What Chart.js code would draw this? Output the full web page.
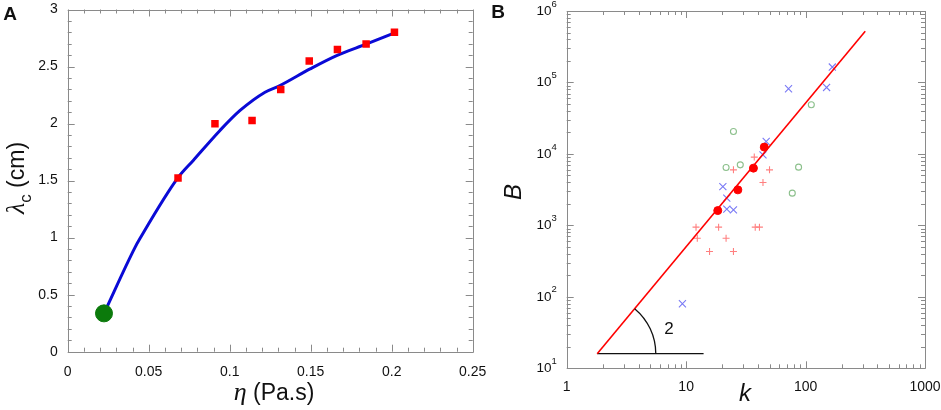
<!DOCTYPE html>
<html>
<head>
<meta charset="utf-8">
<script src="https://cdn.jsdelivr.net/npm/chart.js@4.4.0/dist/chart.umd.min.js"></script>
<style>
  body { margin: 0; background: #ffffff; }
  canvas { position: absolute; top: 0; }
  #panelA { left: 0; }
  #panelB { left: 490px; }
</style>
</head>
<body>
<canvas id="panelA" width="490" height="410"></canvas>
<canvas id="panelB" width="451" height="410"></canvas>
<script>
// PANEL A - lambda_c vs eta
var etaMeasured = [0.0681, 0.0909, 0.1138, 0.1315, 0.1491, 0.1665, 0.1842, 0.2017];
var lambdaMeasured = [1.522, 1.998, 2.027, 2.298, 2.549, 2.650, 2.698, 2.800];
var etaCurve = [0.0224, 0.0415, 0.0446, 0.0681, 0.0775, 0.0940, 0.1064, 0.1218, 0.1310, 0.1496, 0.1660, 0.1846, 0.2010];
var lambdaCurve = [0.336, 0.913, 0.992, 1.526, 1.677, 1.940, 2.115, 2.275, 2.333, 2.479, 2.596, 2.698, 2.791];
var etaStart = [0.0224];
var lambdaStart = [0.336];
var etaTicks = [0, 0.05, 0.1, 0.15, 0.2, 0.25];
var etaTickLabels = ["0", "0.05", "0.1", "0.15", "0.2", "0.25"];
var lambdaTicks = [0, 0.5, 1, 1.5, 2, 2.5, 3];
var lambdaTickLabels = ["0", "0.5", "1", "1.5", "2", "2.5", "3"];

// PANEL B - B vs k (log-log)
var kFilled = [18.4, 27.1, 36.6, 45.1];
var bFilled = [1611, 3141, 6325, 12450];
var kCross = [9.31, 20.3, 21.9, 21.9, 24.9, 46.8, 44.0, 72, 150, 167.5];
var bCross = [80, 3494, 2404, 1687, 1649, 14920, 9710, 81700, 85100, 164400];
var kOpen = [24.9, 21.6, 28.4, 87.4, 77.4, 111.7];
var bOpen = [20600, 6455, 7035, 6530, 2825, 48700];
var kPlus = [24.9, 37.2, 49.9, 44.0, 12.1, 12.4, 18.7, 21.6, 37.9, 41.1, 15.7, 24.9];
var bPlus = [5990, 9020, 5990, 3975, 944, 662, 944, 662, 944, 944, 430, 430];
var kFit = [1.8, 316];
var bFit = [16, 520000];
var kBase = [1.8, 14];
var bBase = [16, 16];
var kArcEnd = 5.57;
var slopeLabel = "2";
var slopeLabelAt = [7.2, 35];
var kTicks = [1, 10, 100, 1000];
var kTickLabels = ["1", "10", "100", "1000"];
var bTicks = [10, 100, 1000, 10000, 100000, 1000000];
var bTickBase = "10";
var bTickExp = ["1", "2", "3", "4", "5", "6"];

var SANS = "'Liberation Sans', Arial, sans-serif";
var SERIF = "'Liberation Serif', 'DejaVu Serif', serif";

function pts(xs, ys) {
    return xs.map(function (x, i) { return {x: x, y: ys[i]}; });
}

function fixedTicks(values) {
    return function (scale) {
        scale.ticks = values.map(function (v) { return {value: v}; });
    };
}

function fixedSize(prop, size) {
    return function (scale) {
        scale[prop] = size;
        scale.paddingLeft = 0;
        scale.paddingRight = 0;
        scale.paddingTop = 0;
        scale.paddingBottom = 0;
    };
}

// draws text made of several pieces (italic symbol, subscript...)
function drawParts(ctx, parts, x, y, rot) {
    ctx.save();
    ctx.translate(x, y);
    ctx.rotate(rot);
    ctx.fillStyle = "#111111";
    ctx.textBaseline = "alphabetic";
    var total = 0;
    parts.forEach(function (p) { ctx.font = p.font; total += ctx.measureText(p.text).width; });
    var cx = -total / 2;
    parts.forEach(function (p) {
        ctx.font = p.font;
        ctx.fillText(p.text, cx, p.dy || 0);
        cx += ctx.measureText(p.text).width;
    });
    ctx.restore();
}

// frame + inward ticks on the four sides
var frameTicks = {
    id: "frameTicks",
    beforeDatasetsDraw: function (chart, args, opts) {
        var a = chart.chartArea;
        var ctx = chart.ctx;
        var sx = chart.scales.x;
        var sy = chart.scales.y;
        ctx.save();
        ctx.strokeStyle = "#8a8a8a";
        ctx.lineWidth = 1;
        ctx.beginPath();
        function seg(x1, y1, x2, y2) { ctx.moveTo(x1, y1); ctx.lineTo(x2, y2); }
        function tx(v, len) {
            var p = Math.round(sx.getPixelForValue(v)) + 0.5;
            seg(p, a.bottom, p, a.bottom - len);
            seg(p, a.top, p, a.top + len);
        }
        function ty(v, len) {
            var p = Math.round(sy.getPixelForValue(v)) + 0.5;
            seg(a.left, p, a.left + len, p);
            seg(a.right, p, a.right - len, p);
        }
        opts.xMajor.forEach(function (v) { tx(v, 7); });
        opts.xMinor.forEach(function (v) { tx(v, 4); });
        opts.yMajor.forEach(function (v) { ty(v, 7); });
        opts.yMinor.forEach(function (v) { ty(v, 4); });
        ctx.rect(Math.round(a.left) + 0.5, Math.round(a.top) + 0.5,
                 Math.round(a.right - a.left), Math.round(a.bottom - a.top));
        ctx.stroke();
        ctx.restore();
    }
};

var titles = {
    id: "titles",
    afterDraw: function (chart, args, opts) {
        opts.items.forEach(function (it) {
            drawParts(chart.ctx, it.parts, it.x, it.y, it.rot || 0);
        });
    }
};

// "10" with a raised exponent for the log y axis
var powerLabels = {
    id: "powerLabels",
    afterDraw: function (chart) {
        var ctx = chart.ctx;
        var sy = chart.scales.y;
        var right = chart.chartArea.left - 10;
        ctx.save();
        ctx.fillStyle = "#111111";
        ctx.textBaseline = "middle";
        bTicks.forEach(function (v, idx) {
            var py = sy.getPixelForValue(v);
            ctx.font = "9.5px " + SANS;
            var ew = ctx.measureText(bTickExp[idx]).width;
            ctx.textAlign = "left";
            ctx.fillText(bTickExp[idx], right - ew, py - 7);
            ctx.font = "13.5px " + SANS;
            ctx.textAlign = "right";
            ctx.fillText(bTickBase, right - ew, py);
        });
        ctx.restore();
    }
};

// slope triangle: arc between the base line and the fit line
var slopeArc = {
    id: "slopeArc",
    afterDatasetsDraw: function (chart) {
        var ctx = chart.ctx;
        var sx = chart.scales.x;
        var sy = chart.scales.y;
        var cx = sx.getPixelForValue(kBase[0]);
        var cy = sy.getPixelForValue(bBase[0]);
        var r = sx.getPixelForValue(kArcEnd) - cx;
        var ang = Math.atan2(sy.getPixelForValue(bFit[1]) - sy.getPixelForValue(bFit[0]),
                             sx.getPixelForValue(kFit[1]) - sx.getPixelForValue(kFit[0]));
        ctx.save();
        ctx.strokeStyle = "#111111";
        ctx.lineWidth = 1.3;
        ctx.beginPath();
        ctx.arc(cx, cy, r, ang, 0);
        ctx.stroke();
        ctx.fillStyle = "#111111";
        ctx.font = "17px " + SANS;
        ctx.textAlign = "center";
        ctx.textBaseline = "middle";
        ctx.fillText(slopeLabel, sx.getPixelForValue(slopeLabelAt[0]), sy.getPixelForValue(slopeLabelAt[1]));
        ctx.restore();
    }
};

var i, d;
var etaMinor = [];
for (i = 1; i < 25; i += 1) { if (i % 5 !== 0) { etaMinor.push(i / 100); } }
var lambdaMinor = [];
for (i = 1; i < 30; i += 1) { if (i % 5 !== 0) { lambdaMinor.push(i / 10); } }
var kMinor = [];
for (d = 1; d < 1000; d *= 10) { for (i = 2; i < 10; i += 1) { kMinor.push(i * d); } }
var bMinor = [];
for (d = 10; d < 1000000; d *= 10) { for (i = 2; i < 10; i += 1) { bMinor.push(i * d); } }

var tickFont = {family: SANS, size: 14};

new Chart(document.getElementById("panelA"), {
    type: "scatter",
    data: {
        datasets: [{
            data: pts(etaStart, lambdaStart),
            backgroundColor: "#0b7a0b",
            borderColor: "#0b7a0b",
            pointRadius: 8.5,
            pointStyle: "circle"
        }, {
            data: pts(etaMeasured, lambdaMeasured),
            backgroundColor: "#ff0000",
            borderColor: "#ff0000",
            borderWidth: 0,
            pointRadius: 5.3,
            pointStyle: "rect"
        }, {
            data: pts(etaCurve, lambdaCurve),
            showLine: true,
            borderColor: "#0a0ad6",
            borderWidth: 3,
            pointRadius: 0,
            cubicInterpolationMode: "monotone"
        }]
    },
    options: {
        responsive: false,
        animation: false,
        events: [],
        layout: {padding: {top: 9, right: 17.3, left: 0, bottom: 0}},
        plugins: {
            legend: {display: false},
            tooltip: {enabled: false},
            frameTicks: {xMajor: etaTicks, xMinor: etaMinor, yMajor: lambdaTicks, yMinor: lambdaMinor},
            titles: {items: [
                {parts: [{text: "A", font: "bold 19px " + SANS}], x: 10, y: 20},
                {parts: [{text: "\u03bb", font: "italic 26px " + SERIF},
                         {text: "c", font: "17px " + SANS, dy: 7},
                         {text: " (cm)", font: "23px " + SANS}], x: 24, y: 178, rot: -Math.PI / 2},
                {parts: [{text: "\u03b7", font: "italic 26px " + SERIF},
                         {text: " (Pa.s)", font: "23px " + SANS}], x: 274, y: 400}
            ]}
        },
        scales: {
            x: {
                type: "linear", min: 0, max: 0.25,
                afterBuildTicks: fixedTicks(etaTicks),
                afterFit: fixedSize("height", 58.3),
                grid: {display: false, drawTicks: false},
                border: {display: false},
                ticks: {
                    font: tickFont, color: "#111111", padding: 12, maxRotation: 0,
                    callback: function (v, idx) { return etaTickLabels[idx]; }
                }
            },
            y: {
                type: "linear", min: 0, max: 3,
                afterBuildTicks: fixedTicks(lambdaTicks),
                afterFit: fixedSize("width", 67.7),
                grid: {display: false, drawTicks: false},
                border: {display: false},
                ticks: {
                    font: tickFont, color: "#111111", padding: 10,
                    callback: function (v, idx) { return lambdaTickLabels[idx]; }
                }
            }
        }
    },
    plugins: [frameTicks, titles]
});

new Chart(document.getElementById("panelB"), {
    type: "scatter",
    data: {
        datasets: [{
            data: pts(kFilled, bFilled),
            backgroundColor: "#ff0000",
            borderColor: "#ff0000",
            pointRadius: 4,
            pointStyle: "circle"
        }, {
            data: pts(kFit, bFit),
            showLine: true,
            borderColor: "#ff0000",
            borderWidth: 1.6,
            pointRadius: 0
        }, {
            data: pts(kBase, bBase),
            showLine: true,
            borderColor: "#111111",
            borderWidth: 1.3,
            pointRadius: 0
        }, {
            data: pts(kCross, bCross),
            backgroundColor: "transparent",
            borderColor: "#7a7af5",
            borderWidth: 1.1,
            pointRadius: 5,
            pointStyle: "crossRot"
        }, {
            data: pts(kOpen, bOpen),
            backgroundColor: "transparent",
            borderColor: "#8cc08c",
            borderWidth: 1.1,
            pointRadius: 3,
            pointStyle: "circle"
        }, {
            data: pts(kPlus, bPlus),
            backgroundColor: "transparent",
            borderColor: "#ff8080",
            borderWidth: 1.1,
            pointRadius: 3.5,
            pointStyle: "cross"
        }]
    },
    options: {
        responsive: false,
        animation: false,
        events: [],
        layout: {padding: {top: 11, right: 16, left: 0, bottom: 0}},
        plugins: {
            legend: {display: false},
            tooltip: {enabled: false},
            frameTicks: {xMajor: kTicks, xMinor: kMinor, yMajor: bTicks, yMinor: bMinor},
            titles: {items: [
                {parts: [{text: "B", font: "bold 19px " + SANS}], x: 8, y: 18},
                {parts: [{text: "B", font: "italic 24px " + SANS}], x: 31, y: 192, rot: -Math.PI / 2},
                {parts: [{text: "k", font: "italic 24px " + SANS}], x: 255, y: 401}
            ]}
        },
        scales: {
            x: {
                type: "logarithmic", min: 1, max: 1000,
                afterBuildTicks: fixedTicks(kTicks),
                afterFit: fixedSize("height", 41.7),
                grid: {display: false, drawTicks: false},
                border: {display: false},
                ticks: {
                    font: tickFont, color: "#111111", padding: 10, maxRotation: 0, autoSkip: false,
                    callback: function (v, idx) { return kTickLabels[idx]; }
                }
            },
            y: {
                type: "logarithmic", min: 10, max: 1000000,
                afterBuildTicks: fixedTicks(bTicks),
                afterFit: fixedSize("width", 76.7),
                grid: {display: false, drawTicks: false},
                border: {display: false},
                ticks: {display: false}
            }
        }
    },
    plugins: [frameTicks, titles, slopeArc, powerLabels]
});
</script>
</body>
</html>
